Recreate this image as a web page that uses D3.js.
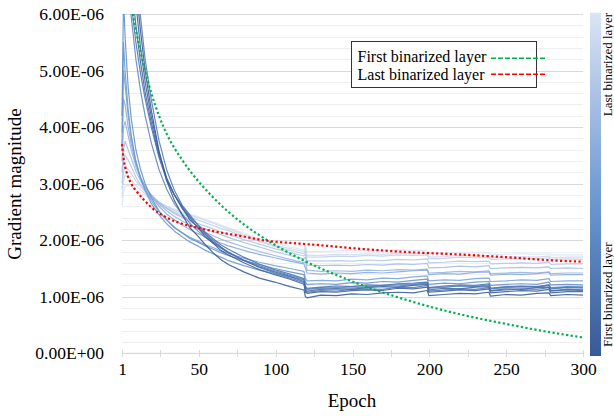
<!DOCTYPE html>
<html><head><meta charset="utf-8">
<script src="https://cdn.jsdelivr.net/npm/d3@7/dist/d3.min.js"></script>
<style>
body{margin:0;background:#fff}
svg{display:block;font-family:"Liberation Serif","Times New Roman",serif}
</style>
</head><body>
<svg id="c" width="614" height="416"></svg>
<script>
// ---- data (values in units of 1e-6) ----
const epochs = [1,2,3,5,7,10,13,16,20,25,30,35,40,45,50,55,60,65,70,80,90,100,110,119,120,121,130,140,150,160,170,180,190,199,200,210,220,230,239,240,250,260,270,278,279,290,300];
// layers ordered from first binarized layer (index 0) to last binarized layer
const layer00 = [9.5,9.2,8.9,8.2,7.4,6.5,5.7,5.0,4.3,3.58,3.05,2.7,2.45,2.22,2.08,1.92,1.78,1.66,1.57,1.44,1.33,1.26,1.18,1.12,1.0,0.98,1.03,1.02,1.05,1.04,1.07,1.08,1.07,1.11,1.02,1.04,1.06,1.05,1.08,1.01,1.04,1.03,1.06,1.07,1.02,1.04,1.03];
const layer01 = [9.8,9.4,9.0,8.3,7.3,6.2,5.4,4.8,4.18,3.55,3.1,2.8,2.58,2.36,2.24,2.06,1.95,1.82,1.74,1.6,1.48,1.39,1.31,1.22,1.08,1.06,1.09,1.08,1.11,1.12,1.11,1.15,1.14,1.17,1.08,1.1,1.12,1.11,1.14,1.07,1.09,1.11,1.1,1.13,1.07,1.09,1.09];
const layer02 = [9.0,8.6,8.2,7.4,6.6,5.8,5.15,4.62,4.08,3.5,3.08,2.8,2.56,2.4,2.22,2.1,1.97,1.88,1.78,1.64,1.53,1.44,1.36,1.27,1.13,1.1,1.13,1.14,1.13,1.16,1.18,1.17,1.2,1.22,1.12,1.15,1.14,1.17,1.18,1.11,1.14,1.13,1.16,1.17,1.11,1.13,1.12];
const layer03 = [8.5,8.0,7.6,6.9,6.2,5.5,4.95,4.5,4.0,3.46,3.06,2.8,2.6,2.42,2.28,2.14,2.03,1.92,1.84,1.7,1.58,1.48,1.4,1.32,1.18,1.15,1.17,1.19,1.18,1.21,1.2,1.23,1.24,1.26,1.16,1.19,1.21,1.2,1.23,1.15,1.18,1.19,1.18,1.21,1.15,1.17,1.17];
const layer04 = [10.5,10.0,9.6,8.8,7.9,6.8,5.95,5.2,4.48,3.76,3.24,2.88,2.62,2.45,2.28,2.12,2.0,1.88,1.79,1.64,1.52,1.42,1.33,1.25,1.1,1.08,1.11,1.1,1.13,1.14,1.13,1.17,1.16,1.2,1.1,1.12,1.14,1.13,1.16,1.1,1.12,1.14,1.13,1.16,1.1,1.12,1.11];
const layer05 = [8.0,7.5,7.1,6.5,5.95,5.2,4.65,4.2,3.72,3.25,2.9,2.64,2.46,2.3,2.17,2.05,1.95,1.86,1.78,1.65,1.55,1.46,1.38,1.3,1.16,1.13,1.15,1.16,1.15,1.18,1.2,1.19,1.22,1.24,1.15,1.17,1.19,1.18,1.21,1.14,1.16,1.18,1.17,1.2,1.14,1.16,1.15];
const layer06 = [4.2,6.3,5.6,4.7,4.15,3.6,3.25,3.0,2.75,2.52,2.36,2.22,2.13,2.03,1.97,1.9,1.84,1.78,1.73,1.64,1.57,1.5,1.44,1.39,1.26,1.22,1.23,1.22,1.25,1.24,1.27,1.26,1.29,1.31,1.22,1.24,1.23,1.26,1.27,1.2,1.22,1.23,1.22,1.26,1.21,1.22,1.21];
const layer07 = [3.9,5.5,5.0,4.3,3.85,3.4,3.1,2.88,2.65,2.45,2.29,2.16,2.06,1.97,1.9,1.82,1.76,1.7,1.64,1.55,1.47,1.41,1.35,1.3,1.18,1.14,1.16,1.15,1.18,1.17,1.2,1.22,1.21,1.25,1.16,1.17,1.19,1.18,1.21,1.15,1.17,1.18,1.17,1.21,1.16,1.18,1.17];
const layer08 = [3.7,5.0,4.75,4.2,3.8,3.38,3.1,2.9,2.7,2.5,2.36,2.23,2.13,2.05,1.99,1.92,1.87,1.81,1.77,1.68,1.61,1.55,1.5,1.45,1.32,1.28,1.29,1.28,1.31,1.3,1.33,1.32,1.35,1.37,1.28,1.3,1.29,1.32,1.33,1.27,1.28,1.3,1.29,1.32,1.27,1.28,1.28];
const layer09 = [3.6,4.5,4.4,4.0,3.7,3.35,3.12,2.95,2.78,2.6,2.46,2.36,2.27,2.19,2.12,2.06,2.0,1.95,1.9,1.82,1.75,1.69,1.63,1.58,1.5,1.42,1.4,1.42,1.41,1.43,1.42,1.44,1.46,1.47,1.39,1.41,1.4,1.43,1.44,1.38,1.4,1.39,1.41,1.43,1.38,1.39,1.39];
const layer10 = [3.4,4.0,4.1,3.85,3.6,3.3,3.1,2.95,2.8,2.64,2.52,2.42,2.34,2.27,2.2,2.14,2.08,2.02,1.97,1.88,1.8,1.73,1.66,1.6,1.62,1.47,1.45,1.46,1.45,1.47,1.46,1.48,1.47,1.49,1.42,1.43,1.45,1.44,1.46,1.41,1.42,1.43,1.42,1.44,1.41,1.42,1.42];
const layer11 = [3.2,3.6,3.75,3.6,3.45,3.22,3.05,2.92,2.8,2.67,2.56,2.47,2.4,2.33,2.26,2.2,2.15,2.1,2.05,1.96,1.88,1.8,1.73,1.67,1.7,1.56,1.55,1.56,1.55,1.57,1.56,1.58,1.57,1.59,1.51,1.52,1.54,1.53,1.55,1.5,1.51,1.52,1.51,1.53,1.5,1.51,1.5];
const layer12 = [3.0,3.4,3.5,3.42,3.3,3.12,2.98,2.88,2.77,2.66,2.57,2.49,2.43,2.36,2.3,2.25,2.2,2.15,2.1,2.01,1.93,1.85,1.78,1.72,1.76,1.64,1.63,1.64,1.63,1.65,1.64,1.66,1.65,1.67,1.6,1.61,1.63,1.62,1.63,1.58,1.59,1.6,1.59,1.61,1.57,1.58,1.58];
const layer13 = [2.9,3.2,3.3,3.25,3.18,3.05,2.95,2.86,2.77,2.67,2.59,2.52,2.46,2.41,2.36,2.31,2.26,2.21,2.17,2.07,1.98,1.89,1.82,1.76,1.82,1.7,1.7,1.72,1.71,1.73,1.72,1.74,1.73,1.74,1.67,1.68,1.7,1.69,1.7,1.66,1.67,1.68,1.67,1.69,1.66,1.67,1.66];
const layer14 = [2.75,3.05,3.15,3.12,3.06,2.97,2.89,2.82,2.75,2.67,2.6,2.54,2.49,2.44,2.4,2.35,2.3,2.25,2.2,2.1,2.0,1.91,1.85,1.8,1.86,1.73,1.73,1.75,1.74,1.76,1.75,1.77,1.76,1.77,1.7,1.71,1.73,1.72,1.73,1.69,1.7,1.71,1.7,1.72,1.69,1.7,1.7];
const layer15 = [2.6,2.85,2.95,2.97,2.95,2.9,2.84,2.79,2.73,2.66,2.6,2.55,2.5,2.46,2.42,2.37,2.32,2.27,2.22,2.12,2.03,1.95,1.88,1.83,1.9,1.8,1.8,1.81,1.82,1.81,1.82,1.83,1.82,1.82,1.77,1.77,1.78,1.77,1.78,1.75,1.75,1.76,1.75,1.76,1.74,1.74,1.74];
const layers = [layer00,layer01,layer02,layer03,layer04,layer05,layer06,layer07,layer08,layer09,layer10,layer11,layer12,layer13,layer14,layer15];

const greenEpochs = [1,4,8,10,15,20,25,30,40,50,60,70,80,94,105,116,130,145,160,180,200,225,250,275,300];
const greenValues = [8.6,7.1,6.0,5.72,5.1,4.6,4.2,3.88,3.42,3.06,2.76,2.5,2.28,2.02,1.84,1.68,1.5,1.33,1.17,0.99,0.83,0.66,0.52,0.39,0.28];
const redEpochs = [1,2,4,7,10,15,20,30,40,50,62,75,95,116,130,150,180,225,250,282,300];
const redValues = [3.7,3.45,3.2,3.0,2.88,2.72,2.58,2.40,2.29,2.22,2.15,2.09,1.99,1.94,1.91,1.86,1.80,1.74,1.70,1.64,1.62];

const yTickValues = [0,1,2,3,4,5,6];
const yTickLabels = ["0.00E+00","1.00E-06","2.00E-06","3.00E-06","4.00E-06","5.00E-06","6.00E-06"];
const xTickLabels = ["1","50","100","150","200","250","300"];
const legendLabels = ["First binarized layer","Last binarized layer"];

// ---- chart ----
const svg = d3.select("#c");
const L = 122, R = 583, T = 14, B = 353.3;
const x = d3.scaleLinear().domain([1,300]).range([L,R]);
const y = d3.scaleLinear().domain([0,6]).range([B,T]);

// gridlines (minor every 0.2, major every 1)
const grid = d3.range(0, 6.0001, 0.2);
svg.append("g").selectAll("line").data(grid).join("line")
  .attr("x1",L).attr("x2",R)
  .attr("y1",d=>Math.round(y(d))+0.5).attr("y2",d=>Math.round(y(d))+0.5)
  .attr("stroke",d=>Math.abs(d-Math.round(d))<1e-6 ? "#d9d9d9" : "#efefef")
  .attr("stroke-width",1);

// y axis labels
const yAxis = svg.append("g").attr("transform",`translate(${L},0)`)
  .call(d3.axisLeft(y).tickValues(yTickValues).tickSize(0).tickPadding(18).tickFormat((d,i)=>yTickLabels[i]));
yAxis.select(".domain").remove();
yAxis.selectAll("text").attr("font-size",17.5).attr("font-family","Liberation Serif").attr("fill","#000");

// x axis: line, tick marks, labels
const minorX = d3.range(13).map(i=>1+i*299/12);
svg.append("line").attr("x1",L).attr("x2",R).attr("y1",B).attr("y2",B).attr("stroke","#d9d9d9");
svg.append("g").selectAll("line").data(minorX).join("line")
  .attr("x1",d=>Math.round(x(d))+0.5).attr("x2",d=>Math.round(x(d))+0.5)
  .attr("y1",B-3.5).attr("y2",B+3.5).attr("stroke","#d9d9d9");
const xAxis = svg.append("g").attr("transform",`translate(0,${B})`)
  .call(d3.axisBottom(x).tickValues(xTickLabels.map((d,i)=>1+i*299/6)).tickSize(0).tickPadding(9).tickFormat((d,i)=>xTickLabels[i]));
xAxis.select(".domain").remove();
xAxis.selectAll("text").attr("font-size",17.5).attr("font-family","Liberation Serif").attr("fill","#000");

// clip
svg.append("clipPath").attr("id","plot").append("rect")
  .attr("x",L-2).attr("y",T).attr("width",R-L+4).attr("height",B-T);

const color = d3.scaleLinear().domain([0,7,layers.length-1])
  .range(["#395b95","#6d9ad2","#dbe4f3"]).interpolate(d3.interpolateLab);

const line = d3.line().x(d=>x(d[0])).y(d=>y(d[1]));
const gLines = svg.append("g").attr("clip-path","url(#plot)");
const order = d3.range(layers.length).reverse();
gLines.selectAll("path.layer").data(order).join("path").attr("class","layer")
  .attr("d",i=>line(epochs.map((e,k)=>[e,layers[i][k]])))
  .attr("fill","none").attr("stroke",i=>color(i)).attr("stroke-width",1.2)
  .attr("stroke-opacity",0.9).attr("stroke-linejoin","round");

const smooth = d3.line().curve(d3.curveMonotoneX).x(d=>x(d[0])).y(d=>y(d[1]));
gLines.append("path").attr("d",smooth(greenEpochs.map((e,k)=>[e,greenValues[k]])))
  .attr("fill","none").attr("stroke","#00b050").attr("stroke-width",2.2).attr("stroke-dasharray","2.2 2.4");
gLines.append("path").attr("d",smooth(redEpochs.map((e,k)=>[e,redValues[k]])))
  .attr("fill","none").attr("stroke","#ff0000").attr("stroke-width",2.2).attr("stroke-dasharray","2.2 2.4");

// axis titles
svg.append("text").attr("x",352).attr("y",407).attr("text-anchor","middle")
  .attr("font-size",19).text("Epoch");
svg.append("text").attr("transform","translate(21,184) rotate(-90)").attr("text-anchor","middle")
  .attr("font-size",19).text("Gradient magnitude");

// legend
const lg = svg.append("g");
lg.append("rect").attr("x",351.5).attr("y",41.5).attr("width",185).attr("height",46)
  .attr("fill","#fff").attr("stroke","#333").attr("stroke-width",1);
const legColors = ["#00b050","#ff0000"];
legendLabels.forEach((t,i)=>{
  lg.append("text").attr("x",357.5).attr("y",61.5+i*18.5).attr("font-size",16).text(t);
  lg.append("line").attr("x1",491).attr("x2",545).attr("y1",58.3+i*16).attr("y2",58.3+i*16)
    .attr("stroke",legColors[i]).attr("stroke-width",1.5).attr("stroke-dasharray","5 2");
});

// color bar
const defs = svg.append("defs");
const grad = defs.append("linearGradient").attr("id","cb").attr("x1",0).attr("y1",1).attr("x2",0).attr("y2",0);
d3.range(0,1.0001,0.1).forEach(t=>{
  grad.append("stop").attr("offset",t).attr("stop-color",color(t*(layers.length-1)));
});
svg.append("rect").attr("x",590).attr("y",12.7).attr("width",11).attr("height",343.3).attr("fill","url(#cb)");
svg.append("text").attr("transform","translate(612,13) rotate(-90)").attr("text-anchor","end")
  .attr("font-size",13).text("Last binarized layer");
svg.append("text").attr("transform","translate(612,347) rotate(-90)").attr("text-anchor","start")
  .attr("font-size",13).text("First binarized layer");
</script>
</body></html>
